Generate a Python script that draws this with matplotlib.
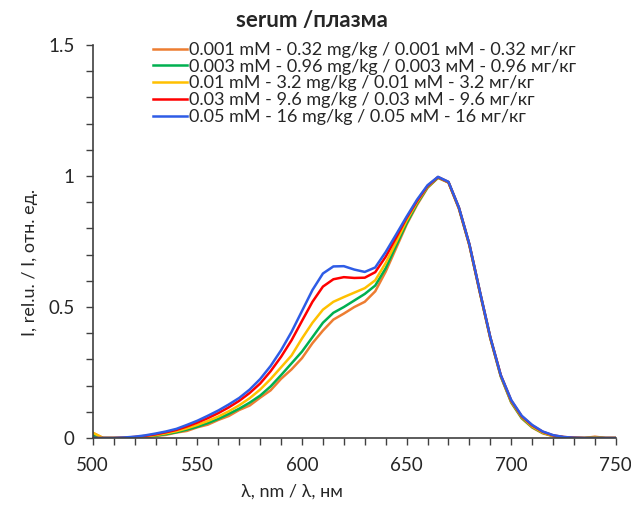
import matplotlib
matplotlib.use('Agg')
import matplotlib.pyplot as plt
import numpy as np

plt.rcParams['font.family'] = ['Lato', 'DejaVu Sans']

# wavelength, nm (5 nm step)
wl = list(range(500, 755, 5))

# 0.001 mM
y_001 = [0.02, 0.0, 0.0, 0.0, 0.001, 0.004, 0.008, 0.012, 0.021, 0.027, 0.041, 0.051, 0.069, 0.084, 0.107,
         0.124, 0.154, 0.182, 0.226, 0.262, 0.305, 0.362, 0.41, 0.452, 0.475, 0.5, 0.52, 0.56, 0.635, 0.725,
         0.815, 0.89, 0.955, 0.993, 0.975, 0.875, 0.735, 0.555, 0.38, 0.235, 0.135, 0.075, 0.04, 0.018, 0.007,
         0.002, 0.0, 0.0, 0.005, 0.0, 0.0]
# 0.003 mM
y_003 = [0.01, 0.0, 0.0, 0.0, 0.002, 0.005, 0.009, 0.015, 0.022, 0.032, 0.043, 0.057, 0.073, 0.092, 0.112,
         0.135, 0.162, 0.197, 0.24, 0.285, 0.33, 0.385, 0.44, 0.478, 0.5, 0.525, 0.55, 0.582, 0.648, 0.735,
         0.82, 0.895, 0.957, 0.994, 0.976, 0.877, 0.737, 0.557, 0.382, 0.236, 0.137, 0.077, 0.042, 0.02, 0.008,
         0.003, 0.001, 0.0, 0.003, 0.0, 0.0]
# 0.01 mM
y_01 = [0.02, 0.0, 0.0, 0.001, 0.003, 0.006, 0.011, 0.018, 0.026, 0.037, 0.05, 0.065, 0.082, 0.102, 0.125,
        0.152, 0.185, 0.225, 0.27, 0.315, 0.38, 0.44, 0.49, 0.52, 0.538, 0.555, 0.572, 0.602, 0.668, 0.748,
        0.83, 0.9, 0.96, 0.995, 0.976, 0.878, 0.738, 0.558, 0.383, 0.238, 0.14, 0.08, 0.044, 0.021, 0.008,
        0.003, 0.001, 0.0, 0.002, 0.0, 0.0]
# 0.03 mM
y_03 = [0.0, 0.0, 0.0, 0.001, 0.004, 0.008, 0.014, 0.022, 0.031, 0.044, 0.059, 0.076, 0.095, 0.117, 0.142,
        0.172, 0.208, 0.255, 0.31, 0.373, 0.447, 0.52, 0.578, 0.606, 0.614, 0.611, 0.612, 0.633, 0.692, 0.765,
        0.84, 0.905, 0.962, 0.996, 0.977, 0.879, 0.739, 0.559, 0.384, 0.24, 0.143, 0.083, 0.048, 0.024, 0.01,
        0.004, 0.001, 0.0, 0.0, 0.0, 0.0]
# 0.05 mM
y_05 = [0.0, 0.0, 0.0, 0.002, 0.005, 0.01, 0.017, 0.025, 0.035, 0.05, 0.066, 0.085, 0.105, 0.128, 0.153,
        0.185, 0.225, 0.275, 0.335, 0.405, 0.485, 0.565, 0.628, 0.655, 0.656, 0.643, 0.634, 0.651, 0.71, 0.777,
        0.845, 0.91, 0.965, 0.997, 0.978, 0.88, 0.74, 0.56, 0.385, 0.24, 0.145, 0.085, 0.05, 0.025, 0.011,
        0.004, 0.001, 0.0, 0.0, 0.0, 0.0]

labels = ['0.001 mM - 0.32 mg/kg / 0.001 мМ - 0.32 мг/кг',
          '0.003 mM - 0.96 mg/kg / 0.003 мМ - 0.96 мг/кг',
          '0.01 mM - 3.2 mg/kg / 0.01 мМ - 3.2 мг/кг',
          '0.03 mM - 9.6 mg/kg / 0.03 мМ - 9.6 мг/кг',
          '0.05 mM - 16 mg/kg / 0.05 мМ - 16 мг/кг']
colors = ['#ED7D31', '#00B050', '#FFC000', '#FF0000', '#2E5CE6']

fig = plt.figure(figsize=(6.31, 5.12), dpi=100)
ax = fig.add_axes([0.147, 0.1445, 0.829, 0.7675])

for ys, c, lab in zip([y_001, y_003, y_01, y_03, y_05], colors, labels):
    ax.plot(wl, ys, color=c, lw=1.8, label=lab)

ax.set_xlim(500, 750)
ax.set_ylim(0, 1.5)
ax.set_xticks([500, 550, 600, 650, 700, 750])
ax.set_xticks(np.arange(500, 751, 10), minor=True)
ax.set_yticks([0, 0.5, 1, 1.5])
ax.set_yticklabels(['0', '0.5', '1', '1.5'])
ax.set_yticks(np.arange(0, 1.51, 0.1), minor=True)
ax.tick_params(which='both', direction='out', length=5, width=1, color='#404040',
               labelsize=13.5, labelcolor='#262626')
ax.tick_params(axis='x', pad=9)
ax.tick_params(axis='y', pad=8)
for s in ['top', 'right']:
    ax.spines[s].set_visible(False)
for s in ['left', 'bottom']:
    ax.spines[s].set_color('#404040')
    ax.spines[s].set_linewidth(1.2)

fig.text(0.495, 0.96, 'serum /плазма', fontsize=16, fontweight='bold', color='#262626',
         ha='center', va='center')
ax.set_xlabel('λ, nm / λ, нм', fontsize=13, color='#262626')
ax.xaxis.set_label_coords(0.38, -0.115)
ax.set_ylabel('I, rel.u. / I, отн. ед.', fontsize=13, color='#262626')
ax.yaxis.set_label_coords(-0.105, 0.448)

ax.legend(loc='upper left', bbox_to_anchor=(0.243, 0.918), bbox_transform=fig.transFigure,
          frameon=False, fontsize=13, handlelength=1.85, handletextpad=0.1,
          labelspacing=0.04, borderaxespad=0, borderpad=0, labelcolor='#262626')

plt.savefig('out.png', dpi=100)
